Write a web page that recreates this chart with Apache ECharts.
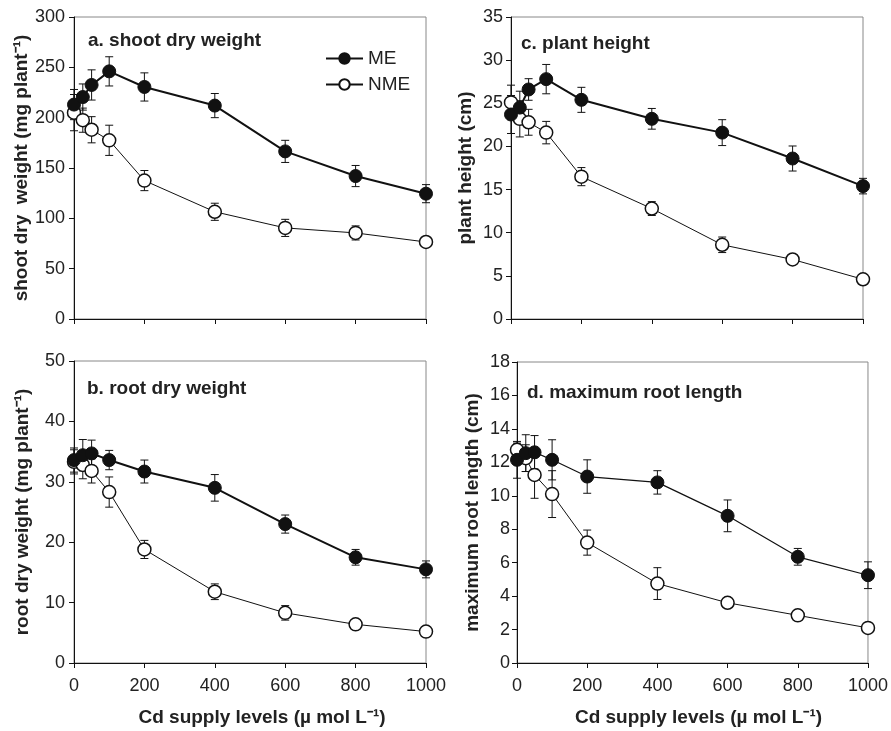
<!DOCTYPE html>
<html><head><meta charset="utf-8">
<script src="https://cdn.jsdelivr.net/npm/echarts@6/dist/echarts.min.js"></script>
<style>html,body{margin:0;padding:0;background:#fff}#c{width:891px;height:731px}</style>
</head><body><div id="c"></div>
<script>
var cdLevels = [0, 25, 50, 100, 200, 400, 600, 800, 1000];

var shootME = [213, 220.5, 232.5, 246, 230.5, 212, 166.5, 142, 124.5];
var shootMEerr = [15, 13, 15, 14.5, 14, 12, 11, 10.5, 9];
var shootNME = [205, 197.5, 188, 177.5, 137.5, 106.5, 90.5, 85.5, 76.5];
var shootNMEerr = [18, 12, 13, 15, 10, 8.5, 8.5, 7, 5];

var heightME = [23.7, 24.5, 26.6, 27.8, 25.4, 23.2, 21.6, 18.6, 15.4];
var heightMEerr = [2.2, 1.9, 1.25, 1.7, 1.45, 1.2, 1.5, 1.45, 0.9];
var heightNME = [25.1, 23.2, 22.8, 21.6, 16.5, 12.8, 8.6, 6.9, 4.6];
var heightNMEerr = [2.0, 2.1, 1.5, 1.3, 1.05, 0.8, 0.9, 0.4, 0.4];

var rootME = [33.6, 34.4, 34.7, 33.6, 31.7, 29.0, 23.0, 17.5, 15.5];
var rootMEerr = [2.0, 2.6, 2.2, 1.6, 1.9, 2.2, 1.5, 1.3, 1.4];
var rootNME = [33.3, 32.8, 31.8, 28.3, 18.8, 11.8, 8.3, 6.4, 5.2];
var rootNMEerr = [2.0, 2.3, 2.0, 2.5, 1.5, 1.3, 1.2, 0.5, 0.3];

var lengthME = [12.15, 12.55, 12.6, 12.15, 11.15, 10.8, 8.8, 6.35, 5.25];
var lengthMEerr = [1.1, 1.1, 1.0, 1.2, 1.0, 0.7, 0.95, 0.5, 0.8];
var lengthNME = [12.75, 12.25, 11.25, 10.1, 7.2, 4.75, 3.6, 2.85, 2.1];
var lengthNMEerr = [0.4, 0.8, 1.4, 1.4, 0.75, 0.95, 0.2, 0.3, 0.2];

var panels = [
  {title: 'a. shoot dry weight', yname: 'shoot dry  weight (mg plant\u207B\u00B9)', max: 300, interval: 50,
   me: shootME, meErr: shootMEerr, nme: shootNME, nmeErr: shootNMEerr,
   grid: {left: 74, top: 17, width: 352, height: 302}, gap: 42, bottom: false, meW: 2, tl: [88, 31], lm: 9, xpad: 0},
  {title: 'c. plant height', yname: 'plant height (cm)', max: 35, interval: 5,
   me: heightME, meErr: heightMEerr, nme: heightNME, nmeErr: heightNMEerr,
   grid: {left: 511, top: 17, width: 352, height: 302}, gap: 36, bottom: false, meW: 2, tl: [521, 34], lm: 8, xpad: 0},
  {title: 'b. root dry weight', yname: 'root dry weight (mg plant\u207B\u00B9)', max: 50, interval: 10,
   me: rootME, meErr: rootMEerr, nme: rootNME, nmeErr: rootNMEerr,
   grid: {left: 74, top: 361, width: 352, height: 302}, gap: 42, bottom: true, meW: 2, tl: [87, 379], lm: 9, xpad: 24},
  {title: 'd. maximum root length', yname: 'maximum root length (cm)', max: 18, interval: 2,
   me: lengthME, meErr: lengthMEerr, nme: lengthNME, nmeErr: lengthNMEerr,
   grid: {left: 517, top: 362, width: 351, height: 301}, gap: 35, bottom: true, meW: 1.2, tl: [527, 383], lm: 7, xpad: 12}
];

var font = 'Liberation Sans, Arial, sans-serif';
var grids = [], xAxes = [], yAxes = [], series = [], titles = [];

function errItem(params, api) {
  var x = api.value(0), lo = api.value(1), hi = api.value(2);
  var p1 = api.coord([x, lo]), p2 = api.coord([x, hi]);
  var cap = 4;
  var st = {stroke: '#111', lineWidth: 1};
  return {type: 'group', children: [
    {type: 'line', shape: {x1: p1[0], y1: p1[1], x2: p2[0], y2: p2[1]}, style: st},
    {type: 'line', shape: {x1: p1[0] - cap, y1: p1[1], x2: p1[0] + cap, y2: p1[1]}, style: st},
    {type: 'line', shape: {x1: p2[0] - cap, y1: p2[1], x2: p2[0] + cap, y2: p2[1]}, style: st}
  ]};
}

panels.forEach(function (p, i) {
  grids.push(Object.assign({show: true, borderColor: '#888', borderWidth: 1, backgroundColor: 'transparent'}, p.grid));
  titles.push({text: p.title, left: p.tl[0], top: p.tl[1], padding: 0,
    textStyle: {fontFamily: font, fontSize: 19, fontWeight: 'bold', color: '#222'}});
  xAxes.push({type: 'value', gridIndex: i, min: 0, max: 1000, interval: 200,
    axisLine: {show: true, onZero: false, lineStyle: {color: '#111', width: 1}},
    axisTick: {show: true, length: 5, lineStyle: {color: '#111'}},
    splitLine: {show: false},
    axisLabel: {show: p.bottom, fontFamily: font, fontSize: 18, color: '#222', margin: 14,
      formatter: function (v) { return String(v); }},
    name: p.bottom ? 'Cd supply levels (\u00B5 mol L\u207B\u00B9)' : '',
    nameLocation: 'middle', nameGap: 45,
    nameTextStyle: {fontFamily: font, fontSize: 19, fontWeight: 'bold', color: '#222', padding: [0, 0, 0, p.xpad]}
  });
  yAxes.push({type: 'value', gridIndex: i, min: 0, max: p.max, interval: p.interval,
    axisLine: {show: true, lineStyle: {color: '#111', width: 1}},
    axisTick: {show: true, length: 5, lineStyle: {color: '#111'}},
    splitLine: {show: false},
    axisLabel: {fontFamily: font, fontSize: 18, color: '#222', margin: p.lm},
    name: p.yname, nameLocation: 'middle', nameGap: p.gap, nameRotate: 90,
    nameTextStyle: {fontFamily: font, fontSize: 19, fontWeight: 'bold', color: '#222', verticalAlign: 'bottom'}
  });
  var meErrData = cdLevels.map(function (x, k) { return [x, p.me[k] - p.meErr[k], p.me[k] + p.meErr[k]]; });
  var nmeErrData = cdLevels.map(function (x, k) { return [x, p.nme[k] - p.nmeErr[k], p.nme[k] + p.nmeErr[k]]; });
  series.push({type: 'custom', xAxisIndex: i, yAxisIndex: i, renderItem: errItem, data: meErrData, z: 1, silent: true});
  series.push({type: 'custom', xAxisIndex: i, yAxisIndex: i, renderItem: errItem, data: nmeErrData, z: 1, silent: true});
  series.push({type: 'line', name: 'NME', xAxisIndex: i, yAxisIndex: i, z: 3,
    data: cdLevels.map(function (x, k) { return [x, p.nme[k]]; }),
    symbol: 'circle', symbolSize: 13, showAllSymbol: true,
    lineStyle: {color: '#111', width: 1},
    itemStyle: {color: '#fff', borderColor: '#111', borderWidth: 1.5}, animation: false});
  series.push({type: 'line', name: 'ME', xAxisIndex: i, yAxisIndex: i, z: 4,
    data: cdLevels.map(function (x, k) { return [x, p.me[k]]; }),
    symbol: 'circle', symbolSize: 13, showAllSymbol: true,
    lineStyle: {color: '#111', width: p.meW},
    itemStyle: {color: '#111', borderColor: '#111', borderWidth: 1}, animation: false});
});

var chart = echarts.init(document.getElementById('c'), null, {renderer: 'canvas'});
chart.setOption({
  backgroundColor: '#fff',
  animation: false,
  title: titles,
  legend: {data: ['ME', 'NME'], orient: 'vertical', left: 325, top: 49, padding: 0, itemWidth: 37, itemHeight: 13,
    itemGap: 7, textStyle: {fontFamily: font, fontSize: 19, color: '#222'}, selectedMode: false},
  grid: grids, xAxis: xAxes, yAxis: yAxes, series: series
});
</script></body></html>
